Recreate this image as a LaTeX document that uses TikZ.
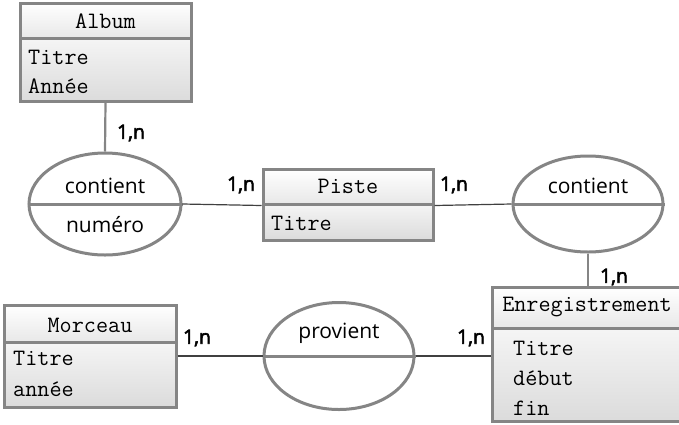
\documentclass[tikz,border=0pt]{standalone}
\usepackage{fontspec}
\setmainfont{Open Sans}
\newfontfamily\lblfont{Open Sans}[FakeBold=3]
\usetikzlibrary{shapes.geometric}
\definecolor{bordergray}{HTML}{858585}
\definecolor{linegray}{HTML}{404040}
\tikzset{
  hdr/.style={rectangle, draw=bordergray, line width=3pt, top color=white, bottom color=black!9, inner sep=0pt},
  bodybox/.style={rectangle, draw=bordergray, line width=3pt, top color=black!4, bottom color=black!14, inner sep=0pt},
  ttl/.style={font=\fontsize{23.5}{26}\selectfont\ttfamily, inner sep=0pt},
  attr/.style={font=\fontsize{23.5}{26}\selectfont\ttfamily, inner sep=0pt, anchor=west},
  rel/.style={ellipse, draw=bordergray, line width=3pt, fill=white, inner sep=0pt},
  reltxt/.style={font=\fontsize{21}{24}\selectfont, inner sep=0pt},
  card/.style={font=\fontsize{19.5}{22}\selectfont\lblfont, inner sep=0pt},
  conn/.style={draw=linegray, line width=1.2pt},
  vconn/.style={draw=bordergray, line width=2.2pt},
  divline/.style={draw=bordergray, line width=3pt}
}
\begin{document}
\begin{tikzpicture}[x=1pt,y=-1pt]
\useasboundingbox (0,0) rectangle (679,424);
\clip (0,0) rectangle (679,424);

% Album
\node[hdr, minimum width=171pt, minimum height=35pt] (albH) at (105.5,20.5) {};
\node[bodybox, minimum width=171pt, minimum height=63pt] (albB) at (105.5,69.5) {};
\node[ttl] (albT) at (105.5,21) {Album};
\node[attr] (albA1) at (28,57) {Titre};
\node[attr] (albA2) at (28,86) {Année};

% Piste
\node[hdr, minimum width=170pt, minimum height=35pt] (pisH) at (348,186.5) {};
\node[bodybox, minimum width=170pt, minimum height=36pt] (pisB) at (348,222) {};
\node[ttl] (pisT) at (348,186) {Piste};
\node[attr] (pisA1) at (271,223) {Titre};

% Morceau
\node[hdr, minimum width=172pt, minimum height=37pt] (morH) at (90,323.5) {};
\node[bodybox, minimum width=172pt, minimum height=65pt] (morB) at (90,374.5) {};
\node[ttl] (morT) at (90,325) {Morceau};
\node[attr] (morA1) at (13,358) {Titre};
\node[attr] (morA2) at (13,389) {année};

% Enregistrement
\node[hdr, minimum width=192pt, minimum height=41pt] (enrH) at (588,307.5) {};
\node[bodybox, minimum width=192pt, minimum height=93pt] (enrB) at (588,374.5) {};
\node[ttl] (enrT) at (587,307) {Enregistrement};
\node[attr] (enrA1) at (513,348) {Titre};
\node[attr] (enrA2) at (513,378) {début};
\node[attr] (enrA3) at (513,408) {fin};

% relations
\node[rel, minimum width=152pt, minimum height=102pt] (r1) at (105,204) {};
\node[rel, minimum width=150pt, minimum height=96pt] (r2) at (588,204) {};
\node[rel, minimum width=150pt, minimum height=107pt] (r3) at (339,356) {};
\draw[divline] (r1.west) -- (r1.east);
\draw[divline] (r2.west) -- (r2.east);
\draw[divline] (r3.west) -- (r3.east);
\node[reltxt] (r1t) at (105,186) {contient};
\node[reltxt] (r1a) at (105,225) {numéro};
\node[reltxt] (r2t) at (588,186) {contient};
\node[reltxt] (r3t) at (339,333) {provient};

% connectors
\draw[vconn] (albB.south) -- (r1.north);
\draw[conn] (r1.east) -- (pisH.south west);
\draw[conn] (pisH.south east) -- (r2.west);
\draw[vconn] (r2.south) -- (r2.south |- enrH.north);
\draw[conn] (morB.east |- r3.west) -- (r3.west);
\draw[conn] (r3.east) -- (r3.east -| enrB.west);

% cardinalities
\node[card] (c1) at (131,133) {1,n};
\node[card] (c2) at (241,185) {1,n};
\node[card] (c3) at (454,185) {1,n};
\node[card] (c4) at (614,277) {1,n};
\node[card] (c5) at (197,338) {1,n};
\node[card] (c6) at (471,338) {1,n};
\end{tikzpicture}
\end{document}
